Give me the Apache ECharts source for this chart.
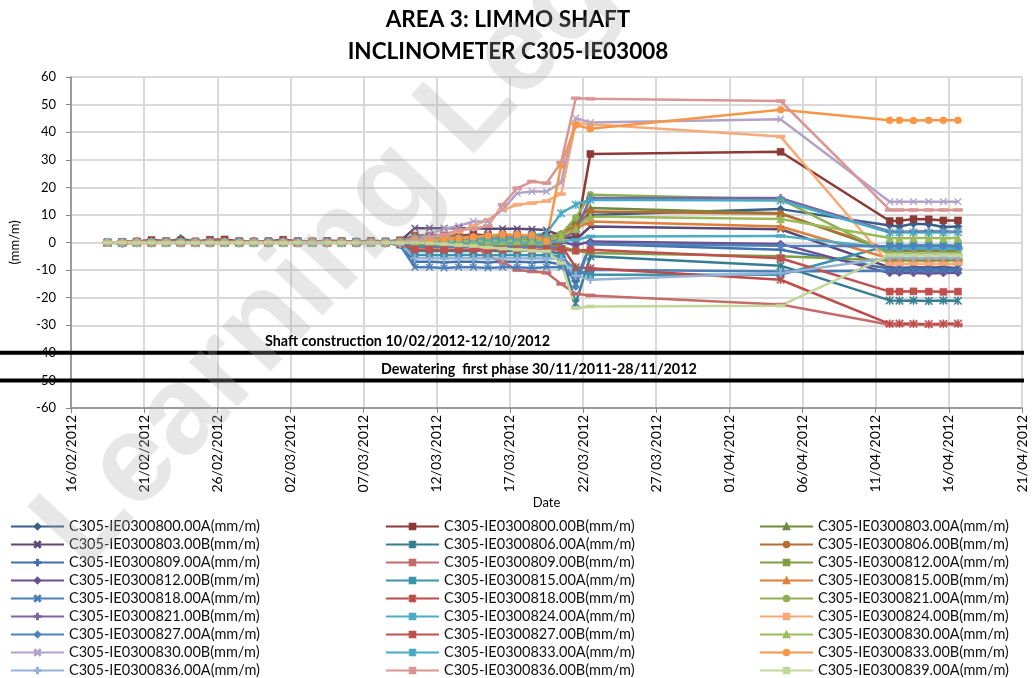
<!DOCTYPE html>
<html><head><meta charset="utf-8">
<script src="https://cdn.jsdelivr.net/npm/echarts@6/dist/echarts.min.js"></script>
<style>html,body{margin:0;padding:0;background:#fff}#c{width:1032px;height:678px}</style>
</head><body><div id="c"></div>
<script>
const dates = [
 '2012-02-18 12:00','2012-02-19 12:00','2012-02-20 12:00','2012-02-21 12:00','2012-02-22 12:00','2012-02-23 12:00','2012-02-24 12:00',
 '2012-02-25 12:00','2012-02-26 12:00','2012-02-27 12:00','2012-02-28 12:00','2012-02-29 12:00','2012-03-01 12:00','2012-03-02 12:00',
 '2012-03-03 12:00','2012-03-04 12:00','2012-03-05 12:00','2012-03-06 12:00','2012-03-07 12:00','2012-03-08 12:00','2012-03-09 12:00',
 '2012-03-10 12:00','2012-03-11 12:00','2012-03-12 12:00','2012-03-13 12:00','2012-03-14 12:00','2012-03-15 12:00','2012-03-16 12:00',
 '2012-03-17 12:00','2012-03-18 12:00','2012-03-19 12:00','2012-03-20 12:00','2012-03-21 12:00','2012-03-22 12:00',
 '2012-04-04 12:00',
 '2012-04-11 23:00','2012-04-12 15:00','2012-04-13 14:00','2012-04-14 15:00','2012-04-15 15:00','2012-04-16 15:00'
];
const seriesNames = [
 'C305-IE0300800.00A(mm/m)','C305-IE0300800.00B(mm/m)','C305-IE0300803.00A(mm/m)',
 'C305-IE0300803.00B(mm/m)','C305-IE0300806.00A(mm/m)','C305-IE0300806.00B(mm/m)',
 'C305-IE0300809.00A(mm/m)','C305-IE0300809.00B(mm/m)','C305-IE0300812.00A(mm/m)',
 'C305-IE0300812.00B(mm/m)','C305-IE0300815.00A(mm/m)','C305-IE0300815.00B(mm/m)',
 'C305-IE0300818.00A(mm/m)','C305-IE0300818.00B(mm/m)','C305-IE0300821.00A(mm/m)',
 'C305-IE0300821.00B(mm/m)','C305-IE0300824.00A(mm/m)','C305-IE0300824.00B(mm/m)',
 'C305-IE0300827.00A(mm/m)','C305-IE0300827.00B(mm/m)','C305-IE0300830.00A(mm/m)',
 'C305-IE0300830.00B(mm/m)','C305-IE0300833.00A(mm/m)','C305-IE0300833.00B(mm/m)',
 'C305-IE0300836.00A(mm/m)','C305-IE0300836.00B(mm/m)','C305-IE0300839.00A(mm/m)'
];
const s800A = [0,-0.4,0,0.2,0,1.5,0.2,0,0.3,0,0.2,0,0.3,0,0.2,0,0.3,0,0.2,0,0.4, 1,1,1.2,1,1,1.2,1,1,1.2,1,2,4,10, 12.1, 6.2,5.8,6.8,6.6,5.6,5.8];
const s800B = [0,0.2,0.4,0.9,0.5,0.8,0.4,1,1.1,0.5,0.4,0.5,1,0.5,0.4,0.6,0.5,0.3,0.6,0.4,0.8, 2.5,2.5,2.6,2.5,2.8,2.6,2.5,2.6,2.5,2.5,1.5,2,32.1, 32.9, 7.8,7.9,8.5,8.4,8.0,8.0];
const s803A = [0,0,0.3,0.6,0.3,1,0.3,0.2,0.5,0.2,0.3,0.2,0.6,0.2,0.3,0.2,0.5,0.2,0.2,0.4,0.6, 1.5,1.5,1.6,1.5,1.8,1.6,1.5,1.8,2,2,3,8,12.5, 10.6, -3.2,-3.0,-3.2,-3.0,-3.2,-3.0];
const s803B = [0,0,0.2,0.3,0.2,0.3,0.2,0.3,0.2,0.3,0.2,0.2,0.3,0.2,0.3,0.2,0.3,0.2,0.3,0.2,0.5, 5.2,5.2,5.2,5.2,5.2,5,5,5,4.8,4.5,2.5,1,5.8, 4.8, -9,-9.2,-9,-9.1,-9,-9.2];
const s806A = [0,0,-0.2,0,-0.2,0,-0.2,0,-0.2,0,-0.2,0,-0.2,0,-0.2,0,-0.2,0,-0.2,0,-0.5, -3,-3.2,-3,-3.2,-3,-3,-3.2,-3,-3,-3.2,-4,-22,-5, -8.4, -21,-21.1,-21,-21.2,-21,-21.1];
const s806B = [0,0.2,0.3,0.5,0.3,0.5,0.3,0.5,0.6,0.3,0.5,0.3,0.5,0.3,0.5,0.3,0.5,0.3,0.5,0.3,0.6, 1.5,1.5,1.5,1.6,1.5,1.8,2,1.8,2,2,3,6,11.2, 10.4, -2.6,-2.4,-2.6,-2.5,-2.6,-2.4];
const s809A = [0,-0.2,0,-0.2,0,-0.2,0,-0.2,0,-0.2,0,-0.2,0,-0.2,0,-0.2,0,-0.2,0,-0.2,-0.8, -7,-7,-7.2,-7,-7,-7.2,-7,-7,-7.2,-7,-8,-14,-0.5, -2.6, -9.5,-9.6,-9.4,-9.5,-9.6,-9.5];
const s809B = [0,0.2,0.3,0.6,0.3,0.4,0.3,0.7,0.6,0.3,0.4,0.3,0.6,0.3,0.4,0.3,0.4,0.3,0.4,0.3,0.3, 0,-0.3,-0.5,-0.8,-1,-5,-7,-10,-10.5,-11,-15,-18.6,-19.2, -22.5, -29.8,-29.8,-29.6,-29.8,-29.6,-29.8];
const s812A = [0,0,0.2,0,0.2,0,0.2,0,0.2,0,0.2,0,0.2,0,0.2,0,0.2,0,0.2,0,-0.2, -1,-1,-1,-1.2,-1,-1,-1.2,-1,-1,-1.2,-1.5,-3,-3.8, -5, -6.5,-6.4,-6.5,-6.6,-6.5,-6.4];
const s812B = [0,0.2,0,0.2,0,0.3,0,0.2,0,0.2,0,0.2,0,0.2,0,0.2,0,0.2,0,0.2,0.3, 0.5,0.5,0.6,0.5,0.5,0.6,0.5,0.5,0.5,0.5,0.3,-1,0.4, -0.5, -11.1,-11.0,-11.1,-11.2,-11.1,-11.0];
const s815A = [0,-0.2,0,-0.2,0,-0.2,0,-0.2,0,-0.2,0,-0.2,0,-0.2,0,-0.2,0,-0.2,0,-0.2,-0.6, -4.5,-4.5,-4.6,-4.5,-4.5,-4.6,-4.5,-4.5,-4.6,-4.5,-5,-10,-11.7, -11.7, -1,-1.2,-1,-1.1,-1,-1.2];
const s815B = [0,0.2,0.3,0.3,0.2,0.3,0.2,0.3,0.2,0.3,0.2,0.3,0.2,0.3,0.2,0.3,0.2,0.3,0.2,0.3,0.5, 2,2,2.1,2,2.2,2,2,2.2,2,2,3,5,7.6, 5.8, -5.8,-5.6,-5.8,-5.7,-5.8,-5.6];
const s818A = [0,-0.2,0,-0.1,0,-0.2,0,-0.1,0,-0.2,0,-0.1,0,-0.2,0,-0.1,0,-0.2,0,-0.1,-1, -9,-9,-9.2,-9,-9,-9.2,-9,-9,-9.2,-9,-9,-12,-9.9, -10.5, -10.2,-10.3,-10.2,-10.4,-10.2,-10.3];
const s818B = [0,0.1,0.2,0.1,0.2,0.1,0.2,0.1,0.2,0.1,0.2,0.1,0.2,0.1,0.2,0.1,0.2,0.1,0.2,0.1,0.2, 0,0,0.2,0,0,0.2,0,0,0.2,0,-1,-9,-9.3, -13.5, -29.5,-29.4,-29.5,-29.6,-29.5,-29.4];
const s821A = [0,0.1,0.2,0.2,0.1,0.2,0.1,0.2,0.3,0.1,0.2,0.1,0.2,0.1,0.2,0.1,0.2,0.1,0.2,0.1,0.4, 1,1,1.1,1,1,1.2,1,1.2,1.3,1.5,3,9,17.3, 15.7, -4.2,-4.0,-4.2,-4.1,-4.2,-4.0];
const s821B = [0,0,0.1,0.2,0.1,0.2,0.1,0.2,0.1,0.2,0.1,0.2,0.1,0.2,0.1,0.2,0.1,0.2,0.1,0.2,0.3, 0.5,0.5,0.6,0.5,0.5,0.6,0.5,0.5,0.6,0.5,1,4,16.1, 16.1, 4.0,3.9,4.0,4.1,4.0,3.9];
const s824A = [0,0,0.1,0,0.1,0,0.1,0,0.1,0,0.1,0,0.1,0,0.1,0,0.1,0,0.1,0,0.1, 0,0,0.1,0,0,0.1,0,0,0.1,0,0.5,1,2.2, 2.4, -2.2,-2.3,-2.2,-2.2,-2.3,-2.2];
const s824B = [0,0,-0.2,0,-0.2,0,-0.2,0,-0.2,0,-0.2,0,-0.2,0,-0.2,0,-0.2,0,-0.2,0,-0.3, 0,1,2.4,3.9,6,8.2,11.8,13.7,14.3,15,17.6,43.3,42.9, 38.4, -7.8,-7.8,-7.7,-7.8,-7.8,-7.7];
const s827A = [0,-0.1,0,-0.1,0,-0.1,0,-0.1,0,-0.1,0,-0.1,0,-0.1,0,-0.1,0,-0.1,0,-0.1,-0.4, -1.5,-1.5,-1.6,-1.5,-1.5,-1.6,-1.5,-1.5,-1.6,-1.5,-2,-16,-0.5, -1.2, -1.4,-1.5,-1.4,-1.3,-1.4,-1.5];
const s827B = [0,-0.2,-0.1,-0.2,-0.1,-0.2,-0.1,-0.2,-0.1,-0.2,-0.1,-0.2,-0.1,-0.2,-0.1,-0.2,-0.1,-0.2,-0.1,-0.2,-0.5, -2.5,-2.5,-2.6,-2.5,-2.5,-2.6,-2.5,-2.5,-2.6,-2.5,-2.5,-3,-2.6, -5.7, -17.8,-17.8,-17.7,-17.8,-17.9,-17.8];
const s830A = [0,0.1,0,0.1,0,0.1,0,0.1,0,0.1,0,0.1,0,0.1,0,0.1,0,0.1,0,0.1,0.2, 0.5,0.5,0.6,0.5,0.5,0.6,0.5,0.5,0.6,0.8,2,5,9.4, 8.5, 1.6,1.5,1.6,1.6,1.5,1.6];
const s830B = [0,0,0.1,0.1,0,0.1,0,0.1,0,0.1,0,0.1,0,0.1,0,0.1,0,0.1,0,0.1,0.4, 1,3,5,6,7.6,7.6,12,17.9,18.5,18.5,21.7,45.1,43.5, 44.7, 14.8,14.8,14.8,14.8,14.8,14.8];
const s833A = [0,0,0.1,0.2,0.1,0.2,0.1,0.2,0.1,0.2,0.1,0.2,0.1,0.2,0.1,0.2,0.1,0.2,0.1,0.2,0.4, 1.5,1.5,1.6,1.5,1.5,1.6,1.5,1.8,2.5,3.4,10.6,13.7,15.5, 15.2, 3.6,3.6,3.7,3.6,3.6,3.7];
const s833B = [0,0,0.1,0,0.1,0,0.1,0,0.1,0,0.1,0,0.1,0,0.1,0,0.1,0,0.1,0,0.2, 1,1,1.2,1.5,2,2.5,3,2.8,2.6,0.5,28,42.6,41.2, 48.1, 44.3,44.3,44.2,44.3,44.3,44.3];
const s836A = [0,-0.1,0,-0.1,0,-0.1,0,-0.1,0,-0.1,0,-0.1,0,-0.1,0,-0.1,0,-0.1,0,-0.1,-0.5, -5.7,-5.7,-5.8,-5.7,-5.7,-5.8,-5.7,-5.7,-5.8,-5.7,-6,-12,-13.5, -11.1, -5.6,-5.5,-5.6,-5.6,-5.5,-5.6];
const s836B = [0,0,0.1,0,0.1,0,0.1,0,0.1,0,0.1,0,0.1,0,0.1,0,0.1,0,0.1,0,0.2, 0.5,2,3,4.5,5,6,13.7,19.7,22.1,21.5,29,52.3,52.1, 51.3, 11.8,11.8,11.8,11.8,11.8,11.8];
const s839A = [0,0,-0.1,0,-0.1,0,-0.1,0,-0.1,0,-0.1,0,-0.1,0,-0.1,0,-0.1,0,-0.1,0,-0.1, 0,-0.3,-0.6,-1,-1.3,-1.8,-2.2,-2.6,-3,-3.2,-7.5,-23.8,-23.2, -22.9, -4.6,-4.5,-4.6,-4.6,-4.5,-4.6];
const seriesValues = [s800A,s800B,s803A,s803B,s806A,s806B,s809A,s809B,s812A,s812B,s815A,s815B,s818A,s818B,s821A,s821B,s824A,s824B,s827A,s827B,s830A,s830B,s833A,s833B,s836A,s836B,s839A];
const yTicks = [-60,-50,-40,-30,-20,-10,0,10,20,30,40,50,60];
const bandLabels = ['Shaft construction 10/02/2012-12/10/2012','Dewatering  first phase 30/11/2011-28/11/2012'];
const bandLevels = [-40,-50];

const colors = ['#3B5F8B','#8C3A37','#71893F','#5C4776','#357D91','#B66D31','#4172AC','#C46C69','#7F9E45',
 '#6B5090','#3C93AC','#E07F38','#4A7EBB','#BE4B48','#8DB052','#8064A2','#4BACC6','#F8A976',
 '#4F81BD','#C0504D','#9BBB59','#B3A2C7','#46AAC5','#F79646','#95B3D7','#D99694','#C3D69B'];
const X = 'path://M1,0 L5,4 L9,0 L10,1 L6,5 L10,9 L9,10 L5,6 L1,10 L0,9 L4,5 L0,1 Z';
const STAR = 'path://M1,0 L4.3,3.3 L4.3,0 L5.7,0 L5.7,3.3 L9,0 L10,1 L6,5 L10,9 L9,10 L5.7,6.7 L5.7,10 L4.3,10 L4.3,6.7 L1,10 L0,9 L4,5 L0,1 Z';
const PLUS = 'path://M4,0 L6,0 L6,4 L10,4 L10,6 L6,6 L6,10 L4,10 L4,6 L0,6 L0,4 L4,4 Z';
const symDefs = [['diamond',8],['rect',7],['triangle',8],[X,7],[STAR,8],['circle',7],[PLUS,8],['rect',[9,3]],['rect',[9,3]]];
const markers = [0,1,2,3,4,5,6,7,8,0,1,2,3,4,5,6,7,8,0,1,2,3,4,5,6,7,8];

const base = Date.UTC(2012,1,16);
function dayOf(s){const p=s.split(' ');const d=p[0].split('-').map(Number);const t=(p[1]||'00:00').split(':').map(Number);
 return (Date.UTC(d[0],d[1]-1,d[2],t[0],t[1])-base)/86400000;}
function fmt(v){const dt=new Date(base+Math.round(v)*86400000);const dd=String(dt.getUTCDate()).padStart(2,'0');
 const mm=String(dt.getUTCMonth()+1).padStart(2,'0');return dd+'/'+mm+'/'+dt.getUTCFullYear();}
const xs = dates.map(dayOf);
const FONT = 'Lato';

const series = seriesNames.map((n,i)=>{
  const sd = symDefs[markers[i]];
  return {name:n,type:'line',data:seriesValues[i].map((v,j)=>[xs[j],v]),
    symbol:sd[0],symbolSize:sd[1],showSymbol:true,showAllSymbol:true,
    lineStyle:{width:2.5,color:colors[i]},itemStyle:{color:colors[i],borderColor:colors[i],borderWidth:0.5},
    emphasis:{disabled:true},animation:false};
});

const chart = echarts.init(document.getElementById('c'),null,{renderer:'canvas'});
chart.setOption({
  animation:false,
  backgroundColor:'#fff',
  title:{text:'AREA 3: LIMMO SHAFT\nINCLINOMETER C305-IE03008',left:503,top:-1,textAlign:'center',
    textStyle:{fontFamily:FONT,fontWeight:'bold',fontSize:22.5,lineHeight:32,color:'#000'}},
  grid:{left:67,right:10,top:77,bottom:270,containLabel:false},
  xAxis:{type:'value',min:0,max:65,interval:5,name:'Date',nameLocation:'middle',nameGap:86,
    nameTextStyle:{fontFamily:FONT,fontSize:13,color:'#000'},
    axisLine:{show:true,onZero:false,lineStyle:{color:'#868686',width:1.5}},
    axisTick:{show:true,length:5,lineStyle:{color:'#868686'}},
    axisLabel:{rotate:90,margin:7,formatter:fmt,fontFamily:FONT,fontSize:14,color:'#000'},
    splitLine:{show:true,lineStyle:{color:'#d9d9d9',width:2}}},
  yAxis:{type:'value',min:-60,max:60,interval:10,name:'(mm/m)',nameLocation:'middle',nameGap:50,nameRotate:90,
    nameTextStyle:{fontFamily:FONT,fontSize:13,color:'#000'},
    axisLine:{show:true,onZero:false,lineStyle:{color:'#868686',width:1.5}},
    axisTick:{show:true,length:5,lineStyle:{color:'#868686'}},
    axisLabel:{margin:15,fontFamily:FONT,fontSize:13,color:'#000',formatter:v=>yTicks.includes(v)?String(v):''},
    splitLine:{show:true,lineStyle:{color:'#d9d9d9',width:2}}},
  legend:[0,1,2].map(c=>({data:seriesNames.filter((_,i)=>i%3===c),orient:'vertical',left:[10,385,759][c],top:519,height:175,
    itemWidth:53,itemHeight:7,itemGap:3.0,padding:0,selectedMode:false,
    textStyle:{fontFamily:FONT,fontSize:14.5,lineHeight:14,color:'#111'}})),
  series:series
});

const g = [];
bandLevels.forEach((lv,i)=>{
  const y = chart.convertToPixel({yAxisIndex:0},lv);
  g.push({type:'line',shape:{x1:0,y1:y,x2:1024,y2:y},style:{stroke:'#000',lineWidth:4},z:50});
  g.push({type:'text',x:[265,381][i],y:y-11,style:{text:bandLabels[i],fill:'#000',font:'bold 14.3px Lato',textVerticalAlign:'middle'},z:51});
});
g.push({type:'text',x:105,y:590,rotation:47*Math.PI/180,
  style:{text:'Learning Legends',fill:'rgba(170,170,170,0.28)',font:'bold 125px "Liberation Sans"',textVerticalAlign:'bottom'},z:100,silent:true});
chart.setOption({graphic:g});
</script></body></html>
